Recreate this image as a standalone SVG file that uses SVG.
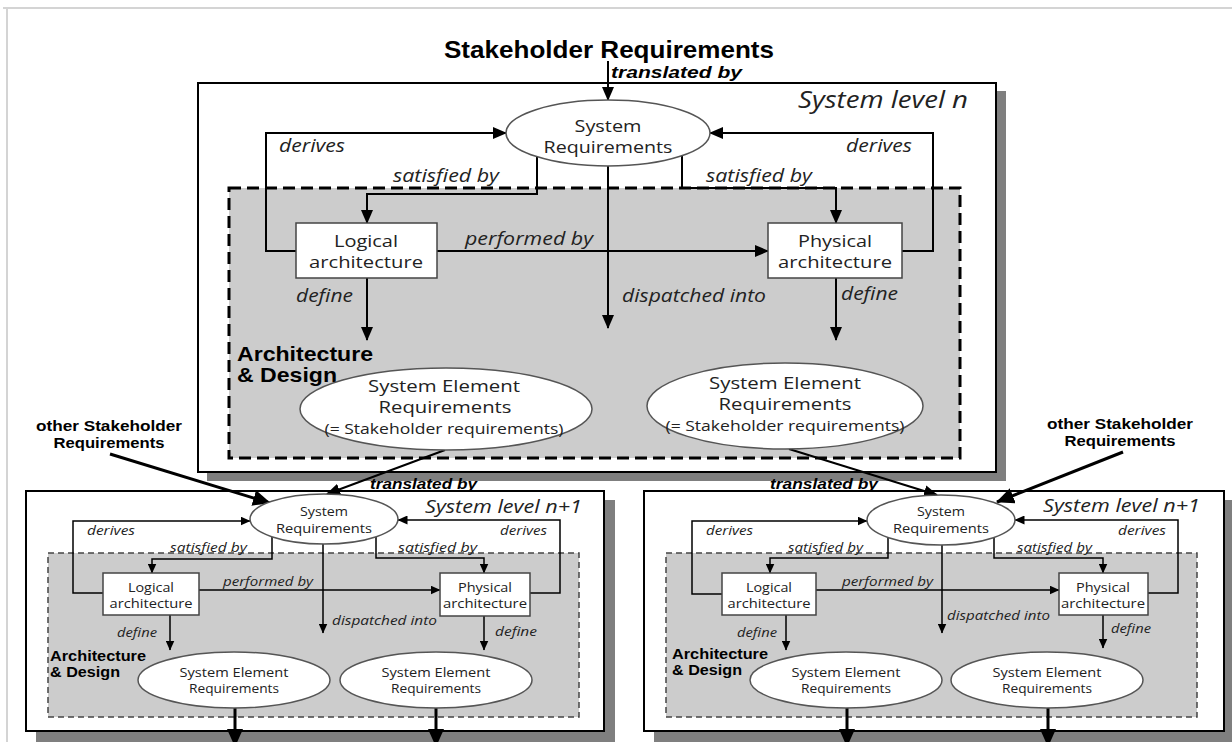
<svg xmlns="http://www.w3.org/2000/svg" width="1232" height="742" viewBox="0 0 1232 742">
<defs>
<style>
.frame{stroke:#d4d4d4;stroke-width:2;fill:none}
.box{fill:#fff;stroke:#000;stroke-width:2}
.shadow{fill:#7f7f7f}
.ad{fill:#cccccc;stroke:#000;stroke-width:3;stroke-dasharray:12 6}
.ad2{fill:#cccccc;stroke:#444;stroke-width:1.5;stroke-dasharray:6 4}
.ell{fill:#fff;stroke:#555;stroke-width:1.5}
.rect{fill:#fff;stroke:#444;stroke-width:1.5}
.c{fill:none;stroke:#000;stroke-width:2}
.c2{fill:none;stroke:#000;stroke-width:1.5}
.c3{fill:none;stroke:#000;stroke-width:3}
.t{font-family:"Open Sans","Liberation Sans",sans-serif;fill:#222}
.m{text-anchor:middle}
.i{font-style:italic}
.b{font-family:"Liberation Sans",Arial,sans-serif;font-weight:bold;fill:#000}
</style>
<marker id="ah" markerUnits="userSpaceOnUse" markerWidth="14" markerHeight="12" refX="13" refY="6" orient="auto"><path d="M0,0 L14,6 L0,12 z" fill="#000"/></marker>
<marker id="ahs" markerUnits="userSpaceOnUse" markerWidth="10" markerHeight="9" refX="9.5" refY="4.5" orient="auto"><path d="M0,0 L10,4.5 L0,9 z" fill="#000"/></marker>
<marker id="ahb" markerUnits="userSpaceOnUse" markerWidth="18" markerHeight="16" refX="17" refY="8" orient="auto"><path d="M0,0 L18,8 L0,16 z" fill="#000"/></marker>
</defs>

<g id="frame">
<line class="frame" x1="3" y1="8" x2="1232" y2="8"/>
<line class="frame" x1="7" y1="8" x2="7" y2="742"/>
</g>

<g id="stakeholder-requirements">
<text class="b" x="609" y="58" font-size="24" text-anchor="middle" textLength="330" lengthAdjust="spacingAndGlyphs">Stakeholder Requirements</text>
</g>
<g id="other-stakeholder-left">
<text class="b m" font-size="15"><tspan x="109" y="431" textLength="146" lengthAdjust="spacingAndGlyphs">other Stakeholder</tspan><tspan x="109" y="448" textLength="111" lengthAdjust="spacingAndGlyphs">Requirements</tspan></text>
</g>
<g id="other-stakeholder-right">
<text class="b m" font-size="15"><tspan x="1120" y="429" textLength="146" lengthAdjust="spacingAndGlyphs">other Stakeholder</tspan><tspan x="1120" y="446" textLength="111" lengthAdjust="spacingAndGlyphs">Requirements</tspan></text>
</g>

<!-- containers -->
<g id="level-n">
<rect class="shadow" x="207" y="91" width="799" height="390"/>
<rect class="box" x="198" y="83" width="798" height="389"/>
<rect class="ad" x="229" y="188" width="731" height="270"/>
<text class="t i" x="968" y="108" font-size="24" text-anchor="end" textLength="170" lengthAdjust="spacingAndGlyphs">System level n</text>
<text class="b" font-size="21"><tspan x="237" y="361" textLength="136" lengthAdjust="spacingAndGlyphs">Architecture</tspan><tspan x="237" y="382" textLength="100" lengthAdjust="spacingAndGlyphs">&amp; Design</tspan></text>
</g>
<g id="level-n1-left">
<rect class="shadow" x="36" y="500" width="579" height="242"/>
<rect class="box" x="26" y="491" width="578" height="240"/>
<rect class="ad2" x="48" y="553" width="531" height="164"/>
<text class="t i" x="582" y="513" font-size="19" text-anchor="end" textLength="157" lengthAdjust="spacingAndGlyphs">System level n+1</text>
<text class="b" font-size="15"><tspan x="50" y="661" textLength="96" lengthAdjust="spacingAndGlyphs">Architecture</tspan><tspan x="50" y="677" textLength="70" lengthAdjust="spacingAndGlyphs">&amp; Design</tspan></text>
</g>
<g id="level-n1-right">
<rect class="shadow" x="654" y="500" width="579" height="242"/>
<rect class="box" x="644" y="491" width="580" height="240"/>
<rect class="ad2" x="666" y="553" width="531" height="164"/>
<text class="t i" x="1200" y="512" font-size="19" text-anchor="end" textLength="157" lengthAdjust="spacingAndGlyphs">System level n+1</text>
<text class="b" font-size="15"><tspan x="672" y="659" textLength="96" lengthAdjust="spacingAndGlyphs">Architecture</tspan><tspan x="672" y="675" textLength="70" lengthAdjust="spacingAndGlyphs">&amp; Design</tspan></text>
</g>

<!-- connectors -->
<g id="connectors">
<line class="c" x1="608" y1="61" x2="608" y2="100" marker-end="url(#ah)"/>
<text class="b i" x="611" y="78" font-size="17" textLength="131" lengthAdjust="spacingAndGlyphs">translated by</text>
<polyline class="c" points="296,251 266,251 266,133 506,133" marker-end="url(#ah)"/>
<text class="t i" x="279" y="152" font-size="18" textLength="66" lengthAdjust="spacingAndGlyphs">derives</text>
<polyline class="c" points="902,251 933,251 933,133 710,133" marker-end="url(#ah)"/>
<text class="t i" x="846" y="152" font-size="18" textLength="66" lengthAdjust="spacingAndGlyphs">derives</text>
<polyline class="c" points="537,157 537,194 367,194 367,223" marker-end="url(#ah)"/>
<text class="t i" x="393" y="182" font-size="18" textLength="106" lengthAdjust="spacingAndGlyphs">satisfied by</text>
<polyline class="c" points="682,156 682,188 836,188 836,223" marker-end="url(#ah)"/>
<text class="t i" x="706" y="182" font-size="18" textLength="106" lengthAdjust="spacingAndGlyphs">satisfied by</text>
<line class="c" x1="437" y1="251" x2="768" y2="251" marker-end="url(#ah)"/>
<text class="t i" x="465" y="245" font-size="18" textLength="128" lengthAdjust="spacingAndGlyphs">performed by</text>
<line class="c" x1="608" y1="166" x2="608" y2="328" marker-end="url(#ah)"/>
<text class="t i" x="622" y="302" font-size="18" textLength="144" lengthAdjust="spacingAndGlyphs">dispatched into</text>
<line class="c" x1="367" y1="278" x2="367" y2="340" marker-end="url(#ah)"/>
<text class="t i" x="296" y="302" font-size="18" textLength="57" lengthAdjust="spacingAndGlyphs">define</text>
<line class="c" x1="836" y1="278" x2="836" y2="340" marker-end="url(#ah)"/>
<text class="t i" x="841" y="300" font-size="18" textLength="57" lengthAdjust="spacingAndGlyphs">define</text>

<line class="c" x1="445" y1="450" x2="327" y2="494" marker-end="url(#ah)"/>
<text class="b i" x="370" y="489" font-size="14" textLength="107" lengthAdjust="spacingAndGlyphs">translated by</text>
<line class="c" x1="789" y1="449" x2="937" y2="495" marker-end="url(#ah)"/>
<text class="b i" x="770" y="489" font-size="14" textLength="108" lengthAdjust="spacingAndGlyphs">translated by</text>
<line class="c3" x1="110" y1="454" x2="270" y2="503" marker-end="url(#ahb)"/>
<line class="c3" x1="1123" y1="452" x2="997" y2="502" marker-end="url(#ahb)"/>

<!-- level n+1 left -->
<polyline class="c2" points="103,593 73,593 73,521 250,521" marker-end="url(#ahs)"/>
<text class="t i" x="87" y="535" font-size="13" textLength="48" lengthAdjust="spacingAndGlyphs">derives</text>
<polyline class="c2" points="530,593 560,593 560,520 398,520" marker-end="url(#ahs)"/>
<text class="t i" x="500" y="535" font-size="13" textLength="47" lengthAdjust="spacingAndGlyphs">derives</text>
<polyline class="c2" points="272,537 272,559 152,559 152,573" marker-end="url(#ahs)"/>
<text class="t i" x="170" y="552" font-size="13" textLength="77" lengthAdjust="spacingAndGlyphs">satisfied by</text>
<polyline class="c2" points="376,537 376,558 484,558 484,573" marker-end="url(#ahs)"/>
<text class="t i" x="398" y="552" font-size="13" textLength="79" lengthAdjust="spacingAndGlyphs">satisfied by</text>
<line class="c2" x1="199" y1="590" x2="440" y2="590" marker-end="url(#ahs)"/>
<text class="t i" x="223" y="586" font-size="13" textLength="90" lengthAdjust="spacingAndGlyphs">performed by</text>
<line class="c2" x1="323" y1="544" x2="323" y2="633" marker-end="url(#ahs)"/>
<text class="t i" x="332" y="625" font-size="13" textLength="105" lengthAdjust="spacingAndGlyphs">dispatched into</text>
<line class="c2" x1="170" y1="615" x2="170" y2="650" marker-end="url(#ahs)"/>
<text class="t i" x="117" y="637" font-size="13" textLength="40" lengthAdjust="spacingAndGlyphs">define</text>
<line class="c2" x1="484" y1="616" x2="484" y2="650" marker-end="url(#ahs)"/>
<text class="t i" x="495" y="636" font-size="13" textLength="42" lengthAdjust="spacingAndGlyphs">define</text>
<line class="c3" x1="235" y1="708" x2="235" y2="746" marker-end="url(#ahb)"/>
<line class="c3" x1="436" y1="708" x2="436" y2="746" marker-end="url(#ahb)"/>

<!-- level n+1 right -->
<polyline class="c2" points="722,594 692,594 692,521 867,521" marker-end="url(#ahs)"/>
<text class="t i" x="706" y="535" font-size="13" textLength="47" lengthAdjust="spacingAndGlyphs">derives</text>
<polyline class="c2" points="1148,593 1178,593 1178,520 1015,520" marker-end="url(#ahs)"/>
<text class="t i" x="1118" y="535" font-size="13" textLength="48" lengthAdjust="spacingAndGlyphs">derives</text>
<polyline class="c2" points="888,537 888,558 770,558 770,573" marker-end="url(#ahs)"/>
<text class="t i" x="788" y="552" font-size="13" textLength="75" lengthAdjust="spacingAndGlyphs">satisfied by</text>
<polyline class="c2" points="994,537 994,558 1103,558 1103,573" marker-end="url(#ahs)"/>
<text class="t i" x="1017" y="552" font-size="13" textLength="75" lengthAdjust="spacingAndGlyphs">satisfied by</text>
<line class="c2" x1="816" y1="590" x2="1059" y2="590" marker-end="url(#ahs)"/>
<text class="t i" x="842" y="586" font-size="13" textLength="91" lengthAdjust="spacingAndGlyphs">performed by</text>
<line class="c2" x1="942" y1="545" x2="942" y2="633" marker-end="url(#ahs)"/>
<text class="t i" x="947" y="620" font-size="13" textLength="103" lengthAdjust="spacingAndGlyphs">dispatched into</text>
<line class="c2" x1="786" y1="615" x2="786" y2="650" marker-end="url(#ahs)"/>
<text class="t i" x="737" y="637" font-size="13" textLength="40" lengthAdjust="spacingAndGlyphs">define</text>
<line class="c2" x1="1103" y1="615" x2="1103" y2="648" marker-end="url(#ahs)"/>
<text class="t i" x="1111" y="633" font-size="13" textLength="40" lengthAdjust="spacingAndGlyphs">define</text>
<line class="c3" x1="847" y1="708" x2="847" y2="746" marker-end="url(#ahb)"/>
<line class="c3" x1="1048" y1="708" x2="1048" y2="746" marker-end="url(#ahb)"/>
</g>

<!-- nodes level n -->
<g id="sysreq-n">
<ellipse class="ell" cx="608" cy="133" rx="102" ry="33"/>
<text class="t m" font-size="17"><tspan x="608" y="132" textLength="67" lengthAdjust="spacingAndGlyphs">System</tspan><tspan x="608" y="153" textLength="129" lengthAdjust="spacingAndGlyphs">Requirements</tspan></text>
</g>
<g id="logical-n">
<rect class="rect" x="296" y="223" width="141" height="55"/>
<text class="t m" font-size="17"><tspan x="366" y="247" textLength="64" lengthAdjust="spacingAndGlyphs">Logical</tspan><tspan x="366" y="268" textLength="114" lengthAdjust="spacingAndGlyphs">architecture</tspan></text>
</g>
<g id="physical-n">
<rect class="rect" x="768" y="223" width="134" height="55"/>
<text class="t m" font-size="17"><tspan x="835" y="247" textLength="74" lengthAdjust="spacingAndGlyphs">Physical</tspan><tspan x="835" y="268" textLength="114" lengthAdjust="spacingAndGlyphs">architecture</tspan></text>
</g>
<g id="ser-n-left">
<ellipse class="ell" cx="446" cy="409" rx="146" ry="41"/>
<text class="t m" font-size="17"><tspan x="444" y="392" textLength="152" lengthAdjust="spacingAndGlyphs">System Element</tspan><tspan x="445" y="413" textLength="133" lengthAdjust="spacingAndGlyphs">Requirements</tspan><tspan x="444" y="434" font-size="14" textLength="239" lengthAdjust="spacingAndGlyphs">(= Stakeholder requirements)</tspan></text>
</g>
<g id="ser-n-right">
<ellipse class="ell" cx="785" cy="406" rx="138" ry="43"/>
<text class="t m" font-size="17"><tspan x="785" y="389" textLength="152" lengthAdjust="spacingAndGlyphs">System Element</tspan><tspan x="785" y="410" textLength="133" lengthAdjust="spacingAndGlyphs">Requirements</tspan><tspan x="785" y="431" font-size="14" textLength="239" lengthAdjust="spacingAndGlyphs">(= Stakeholder requirements)</tspan></text>
</g>

<!-- nodes level n+1 left -->
<g id="sysreq-n1-left">
<ellipse class="ell" cx="324" cy="519" rx="74" ry="25"/>
<text class="t m" font-size="13"><tspan x="324" y="516" textLength="48" lengthAdjust="spacingAndGlyphs">System</tspan><tspan x="324" y="533" textLength="96" lengthAdjust="spacingAndGlyphs">Requirements</tspan></text>
</g>
<g id="logical-n1-left">
<rect class="rect" x="103" y="573" width="96" height="42"/>
<text class="t m" font-size="13"><tspan x="151" y="592" textLength="46" lengthAdjust="spacingAndGlyphs">Logical</tspan><tspan x="151" y="608" textLength="83" lengthAdjust="spacingAndGlyphs">architecture</tspan></text>
</g>
<g id="physical-n1-left">
<rect class="rect" x="440" y="573" width="90" height="43"/>
<text class="t m" font-size="13"><tspan x="485" y="592" textLength="54" lengthAdjust="spacingAndGlyphs">Physical</tspan><tspan x="485" y="608" textLength="84" lengthAdjust="spacingAndGlyphs">architecture</tspan></text>
</g>
<g id="ser-n1-left-a">
<ellipse class="ell" cx="234" cy="680" rx="96" ry="28"/>
<text class="t m" font-size="13"><tspan x="234" y="677" textLength="109" lengthAdjust="spacingAndGlyphs">System Element</tspan><tspan x="234" y="693" textLength="90" lengthAdjust="spacingAndGlyphs">Requirements</tspan></text>
</g>
<g id="ser-n1-left-b">
<ellipse class="ell" cx="436" cy="680" rx="96" ry="28"/>
<text class="t m" font-size="13"><tspan x="436" y="677" textLength="109" lengthAdjust="spacingAndGlyphs">System Element</tspan><tspan x="436" y="693" textLength="90" lengthAdjust="spacingAndGlyphs">Requirements</tspan></text>
</g>

<!-- nodes level n+1 right -->
<g id="sysreq-n1-right">
<ellipse class="ell" cx="941" cy="520" rx="74" ry="25"/>
<text class="t m" font-size="13"><tspan x="941" y="516" textLength="48" lengthAdjust="spacingAndGlyphs">System</tspan><tspan x="941" y="533" textLength="96" lengthAdjust="spacingAndGlyphs">Requirements</tspan></text>
</g>
<g id="logical-n1-right">
<rect class="rect" x="722" y="573" width="94" height="42"/>
<text class="t m" font-size="13"><tspan x="769" y="592" textLength="46" lengthAdjust="spacingAndGlyphs">Logical</tspan><tspan x="769" y="608" textLength="83" lengthAdjust="spacingAndGlyphs">architecture</tspan></text>
</g>
<g id="physical-n1-right">
<rect class="rect" x="1059" y="573" width="89" height="42"/>
<text class="t m" font-size="13"><tspan x="1103" y="592" textLength="54" lengthAdjust="spacingAndGlyphs">Physical</tspan><tspan x="1103" y="608" textLength="84" lengthAdjust="spacingAndGlyphs">architecture</tspan></text>
</g>
<g id="ser-n1-right-a">
<ellipse class="ell" cx="846" cy="680" rx="96" ry="28"/>
<text class="t m" font-size="13"><tspan x="846" y="677" textLength="109" lengthAdjust="spacingAndGlyphs">System Element</tspan><tspan x="846" y="693" textLength="90" lengthAdjust="spacingAndGlyphs">Requirements</tspan></text>
</g>
<g id="ser-n1-right-b">
<ellipse class="ell" cx="1047" cy="680" rx="96" ry="28"/>
<text class="t m" font-size="13"><tspan x="1047" y="677" textLength="109" lengthAdjust="spacingAndGlyphs">System Element</tspan><tspan x="1047" y="693" textLength="90" lengthAdjust="spacingAndGlyphs">Requirements</tspan></text>
</g>
</svg>
